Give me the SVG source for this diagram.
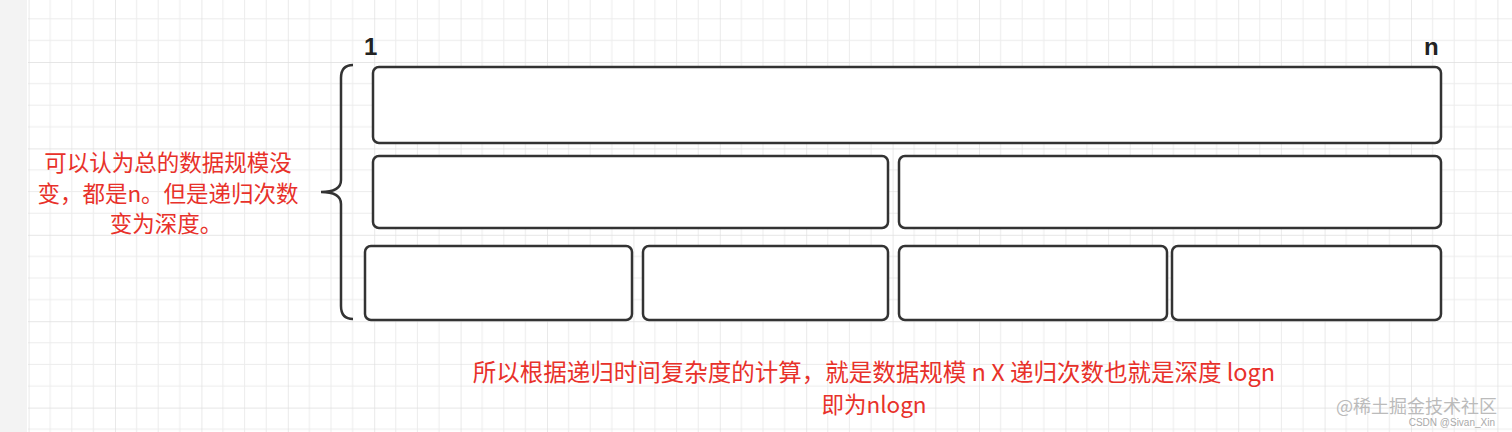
<svg xmlns="http://www.w3.org/2000/svg" width="1512" height="432" viewBox="0 0 1512 432">
<style>
.b{fill:#fff;stroke:#333;stroke-width:2.5}
.r{fill:#e8312a;font-family:"Noto Sans CJK SC","Noto Sans",sans-serif;font-size:22.5px;text-anchor:middle}
.k{fill:#222;font-family:"Liberation Sans",sans-serif;font-weight:bold;font-size:24px}
</style>
<defs>
<pattern id="g" x="28.6" y="-24.4" width="86.4" height="86.4" patternUnits="userSpaceOnUse">
<path d="M21.6 0V86.4M43.2 0V86.4M64.8 0V86.4M0 21.6H86.4M0 43.2H86.4M0 64.8H86.4" stroke="#ececec" stroke-width="1"/>
<path d="M0 0V86.4M0 0H86.4" stroke="#dedede" stroke-width="1.3"/>
</pattern>
</defs>
<rect width="1512" height="432" fill="#fff"/>
<rect x="28" width="1484" height="432" fill="url(#g)"/>
<rect width="27" height="432" fill="#f3f3f3"/>
<g id="labels">
<text class="k" x="364" y="55">1</text>
<text class="k" x="1424" y="55">n</text>
</g>
<g id="row1"><rect class="b" x="373" y="67" width="1068" height="76" rx="6"/></g>
<g id="row2">
<rect class="b" x="373" y="156" width="515" height="72" rx="6"/>
<rect class="b" x="899" y="156" width="542" height="72" rx="6"/>
</g>
<g id="row3">
<rect class="b" x="365" y="246" width="267" height="74" rx="6"/>
<rect class="b" x="643" y="246" width="245" height="74" rx="6"/>
<rect class="b" x="899" y="246" width="268" height="74" rx="6"/>
<rect class="b" x="1172" y="246" width="269" height="74" rx="6"/>
</g>
<g id="connectors">
<path d="M353 65Q341 65 341 78V180Q341 192 321 192Q341 192 341 204V306Q341 319 353 319" fill="none" stroke="#333" stroke-width="2.5"/>
</g>
<g id="note-left">
<text class="r" x="168" y="171">可以认为总的数据规模没</text>
<text class="r" x="168" y="202">变，都是n。但是递归次数</text>
<text class="r" x="166" y="232">变为深度。</text>
</g>
<g id="note-bottom">
<text class="r" x="874" y="381" style="font-size:23.5px">所以根据递归时间复杂度的计算，就是数据规模 n X 递归次数也就是深度 logn</text>
<text class="r" x="874" y="413">即为nlogn</text>
</g>
<g id="wm">
<text x="1497" y="413" text-anchor="end" fill="#bbb" font-size="18" font-family="Noto Sans CJK SC,sans-serif">@稀土掘金技术社区</text>
<text x="1495" y="426" text-anchor="end" fill="#aaa" font-size="10" font-family="Liberation Sans,sans-serif">CSDN @Sivan_Xin</text>
</g>
</svg>
